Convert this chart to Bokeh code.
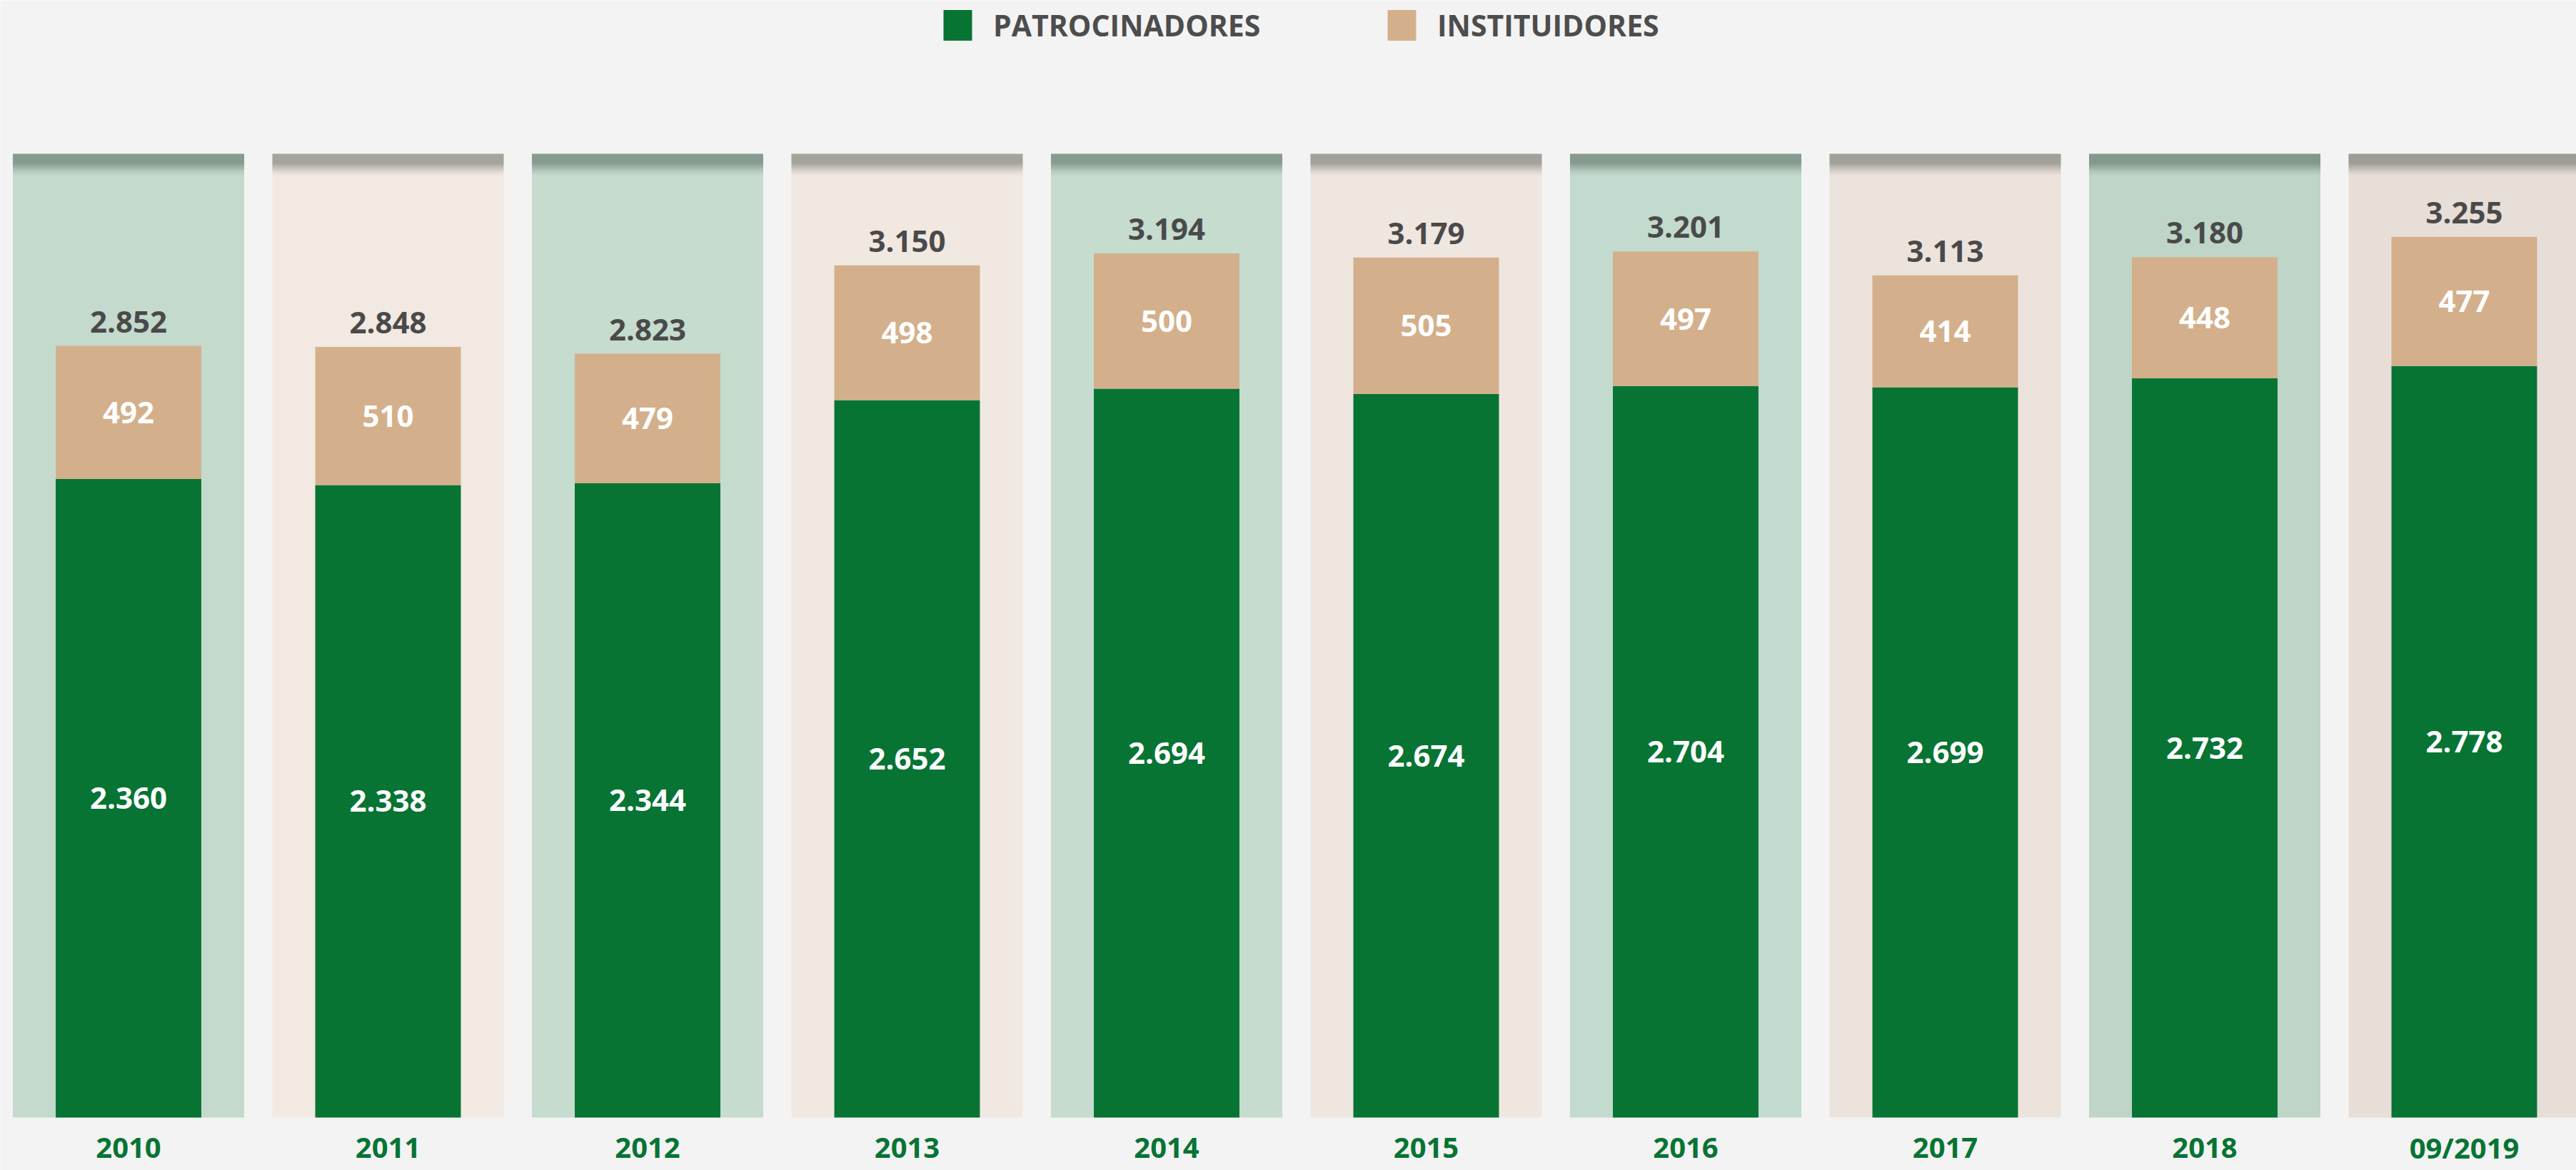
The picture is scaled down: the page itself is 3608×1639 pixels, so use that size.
from bokeh.plotting import figure
from bokeh.models import ColumnDataSource, Range1d, Legend, LegendItem
from bokeh.embed import file_html
from bokeh.resources import INLINE
from bokeh.core.properties import value

# ---------------- data ----------------
categories = ["2010", "2011", "2012", "2013", "2014", "2015", "2016", "2017", "2018", "09/2019"]
patrocinadores = [2360, 2338, 2344, 2652, 2694, 2674, 2704, 2699, 2732, 2778]
instituidores = [492, 510, 479, 498, 500, 505, 497, 414, 448, 477]
series_names = ["PATROCINADORES", "INSTITUIDORES"]


def fmt(v):
    return f"{v:,}".replace(",", ".")


totals = [a + b for a, b in zip(patrocinadores, instituidores)]
xs = list(range(len(categories)))

# ---------------- layout / style ----------------
W, H = 3608, 1639
PX_PER_CAT = 363.5
PX_PER_UNIT = 0.379
X0_PX = 179.5      # pixel of first category centre
Y0_PX = 1565       # pixel (from top) of value 0
x_start = -X0_PX / PX_PER_CAT
x_end = x_start + W / PX_PER_CAT
y_end = Y0_PX / PX_PER_UNIT
y_start = -(H - Y0_PX) / PX_PER_UNIT
PANEL_TOP = (Y0_PX - 215) / PX_PER_UNIT
PANEL_HALF = 0.4457
BAR_W = 0.561

GREEN = "#077434"
BEIGE = "#d3b08b"
PANEL_COLORS = ["#c3dacd", "#f1e9e2", "#c5dccf", "#f1e8e1", "#c5dccf",
                "#efe6df", "#c3dace", "#ece3dc", "#bed5c8", "#e7ded7"]
BG = "#f3f3f3"
FONT = "Open Sans"

p = figure(width=W, height=H, output_backend="svg", toolbar_location=None,
           x_range=Range1d(x_start, x_end), y_range=Range1d(y_start, y_end),
           min_border=0, min_border_left=0, min_border_right=0,
           min_border_top=0, min_border_bottom=0,
           background_fill_color=BG, border_fill_color=BG, outline_line_color=None)
p.axis.visible = False
p.grid.visible = False

# background panels
panel_src = ColumnDataSource(dict(
    left=[x - PANEL_HALF for x in xs],
    right=[x + PANEL_HALF for x in xs],
    bottom=[0] * len(xs),
    top=[PANEL_TOP] * len(xs),
    color=PANEL_COLORS[:len(xs)],
))
p.quad(left="left", right="right", bottom="bottom", top="top", source=panel_src,
       fill_color="color", line_color=None)

# soft dark shadow along the top of each panel
n_strips = 15
strip_px = 2.0
for k in range(n_strips):
    t = PANEL_TOP - k * strip_px / PX_PER_UNIT
    b = t - strip_px / PX_PER_UNIT
    frac = k / n_strips
    a = 0.38 if frac < 0.4 else 0.38 * (1 - (frac - 0.4) / 0.6) ** 1.3
    p.quad(left="left", right="right", bottom=b, top=t, source=panel_src,
           fill_color="#1e2a22", fill_alpha=a, line_color=None)

# stacked bars
src = ColumnDataSource(dict(
    x=xs, cat=categories, pat=patrocinadores, ins=instituidores, tot=totals,
    pat_mid=[v / 2 for v in patrocinadores],
    ins_mid=[a + b / 2 for a, b in zip(patrocinadores, instituidores)],
    pat_txt=[fmt(v) for v in patrocinadores],
    ins_txt=[fmt(v) for v in instituidores],
    tot_txt=[fmt(v) for v in totals],
    zero=[0] * len(xs),
))
r_pat = p.vbar(x="x", width=BAR_W, bottom=0, top="pat", source=src,
               fill_color=GREEN, line_color=None)
r_ins = p.vbar(x="x", width=BAR_W, bottom="pat", top="tot", source=src,
               fill_color=BEIGE, line_color=None)

# labels
p.text(x="x", y="pat_mid", text="pat_txt", source=src, text_color="white",
       text_font=value(FONT), text_font_style="bold", text_font_size="42px",
       text_align="center", text_baseline="middle")
p.text(x="x", y="ins_mid", text="ins_txt", source=src, text_color="white",
       text_font=value(FONT), text_font_style="bold", text_font_size="42px",
       text_align="center", text_baseline="middle")
p.text(x="x", y="tot", text="tot_txt", source=src, text_color="#4a4a4a",
       text_font=value(FONT), text_font_style="bold", text_font_size="42px",
       text_align="center", text_baseline="alphabetic", y_offset=-34)
p.text(x="x", y="zero", text="cat", source=src, text_color=GREEN,
       text_font=value(FONT), text_font_style="bold", text_font_size="40px",
       text_align="center", text_baseline="middle", y_offset=42)

# legends (one per item, placed like the reference)
for renderer, name, lx in [(r_pat, series_names[0], 1316), (r_ins, series_names[1], 1938)]:
    leg = Legend(items=[LegendItem(label=name, renderers=[renderer])],
                 location=(lx, 1576), orientation="horizontal",
                 glyph_width=50, glyph_height=54, label_height=54,
                 label_standoff=25, padding=0, margin=0, spacing=0,
                 border_line_color=None, background_fill_alpha=0,
                 label_text_font=FONT,
                 label_text_font_style="bold", label_text_font_size="41px",
                 label_text_color="#4d4d4d")
    p.add_layout(leg, "center")

open("out.html", "w").write(file_html(p, INLINE))
